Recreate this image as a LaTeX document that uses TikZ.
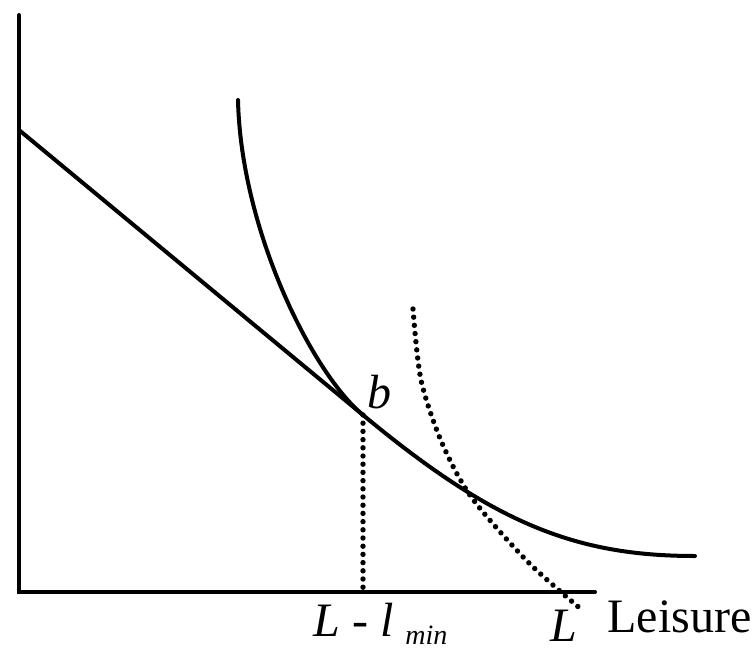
\documentclass[tikz,border=0pt]{standalone}
\usepackage{fontspec}
\setmainfont{Liberation Serif}
\usepackage{tikz}
\usetikzlibrary{positioning}

\begin{document}
\begin{tikzpicture}[
    x=0.5pt, y=-0.5pt,
    axis/.style={line width=2pt, line cap=round},
    curve/.style={line width=2pt, line cap=round},
    dotline/.style={line width=2.7pt, line cap=round, dash pattern=on 0pt off 4.1pt},
    lbl/.style={font=\fontsize{24}{28}\selectfont, inner sep=0pt},
]
\useasboundingbox (0,0) rectangle (756,649);

% ── Points ──
\coordinate (ytop) at (19,15);
\coordinate (origin) at (19,592);
\coordinate (xend) at (595,592);
\coordinate (yint) at (19,130);
\coordinate (b) at (363,415);
\coordinate (bfoot) at (363,592);
\coordinate (ictop) at (238,100);
\coordinate (icend) at (695,556);

% ── Axes ──
\draw[axis] (ytop) -- (origin) -- (xend);

% ── Budget line and indifference curve ──
\draw[curve] (yint) -- (b);
\draw[curve] (ictop) .. controls (241,230) and (312,373) .. (b)
    .. controls (493,523) and (575,556) .. (icend);

% ── Dotted lines ──
\draw[dotline] (b) -- (bfoot);
\draw[dotline] plot[smooth] coordinates {(413,309) (421,380) (442,443) (472,498) (528,562) (582,610)};

% ── Labels ──
\node[lbl, anchor=base west] (blbl) at (367,408) {\textit{b}};
\node[lbl, anchor=base west] (lminlbl) at (313,636)
    {\textit{L} - \textit{l} \raisebox{-4pt}{\fontsize{14}{16}\selectfont\textit{min}}};
\node[lbl, anchor=base west] (Llbl) at (550,641) {\textit{L}};
\node[lbl, anchor=base west] (leisure) at (607,632) {Leisure};

\end{tikzpicture}
\end{document}
